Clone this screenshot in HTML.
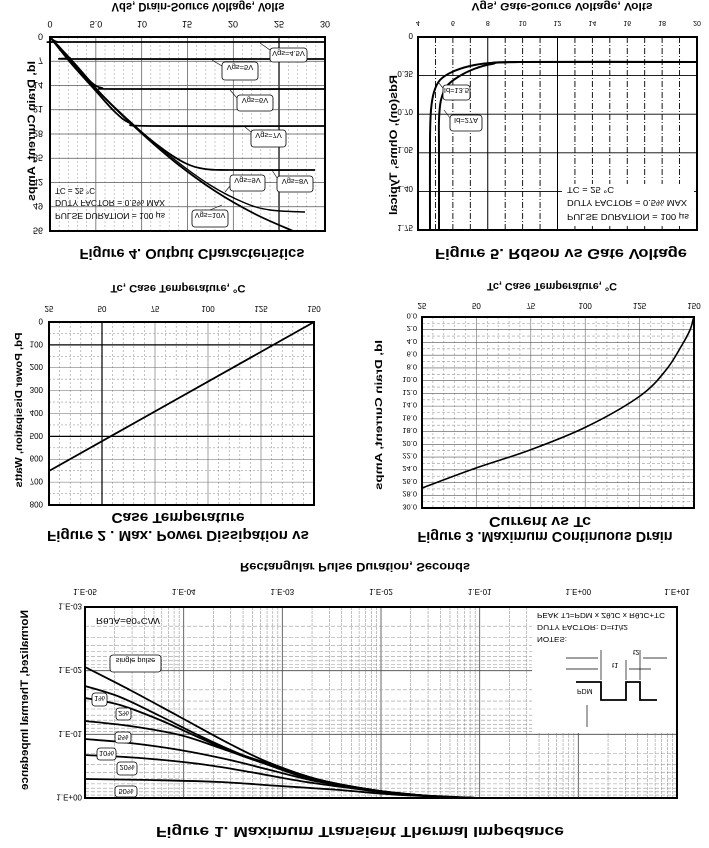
<!DOCTYPE html>
<html><head><meta charset="utf-8"><style>
html,body{margin:0;padding:0;background:#fff}
svg{display:block}
text{font-family:"Liberation Sans",Arial,sans-serif;fill:#000}
.b{font-weight:bold}
</style></head><body>
<svg id="s" width="709" height="848" viewBox="0 0 709 848" xmlns="http://www.w3.org/2000/svg">
<g id="lines"></g>
<g id="fg"></g>
<g transform="matrix(1,0,0,-1,0,848)">
<!-- Fig 4 -->
<text class="b" x="198" y="845" font-size="12" text-anchor="middle" textLength="173" lengthAdjust="spacingAndGlyphs">Vds, Drain-Source Voltage, Volts</text>
<g font-size="9" text-anchor="middle">
<text x="50" y="827">0</text><text x="96" y="827">5.0</text><text x="142" y="827">10</text><text x="187" y="827">15</text><text x="233" y="827">20</text><text x="279" y="827">25</text><text x="325" y="827">30</text>
</g>
<g font-size="9" text-anchor="end">
<text x="43" y="814.5">0</text><text x="43" y="790.3">7</text><text x="43" y="766">14</text><text x="43" y="741.8">21</text><text x="43" y="717.5">28</text><text x="43" y="693.3">35</text><text x="43" y="669">42</text><text x="43" y="644.8">49</text><text x="43" y="620.5">56</text>
</g>
<text class="b" x="192" y="599" font-size="15" text-anchor="middle" textLength="225" lengthAdjust="spacingAndGlyphs">Figure 4. Output Characteristics</text>
<text class="b" transform="translate(35,717) rotate(-90)" font-size="11" text-anchor="middle" textLength="140" lengthAdjust="spacingAndGlyphs">Id, Drain Current, Amps</text>
<g font-size="8.5">
<text x="55" y="660" textLength="40" lengthAdjust="spacingAndGlyphs">TC = 25 °C</text>
<text x="55" y="648" textLength="110" lengthAdjust="spacingAndGlyphs">DUTY FACTOR = 0.5% MAX</text>
<text x="55" y="635" textLength="110" lengthAdjust="spacingAndGlyphs">PULSE DURATION = 100 µs</text>
</g>
<g font-size="7.5" text-anchor="middle">
<text x="288.5" y="797">Vgs=4.5V</text>
<text x="240" y="783">Vgs=5V</text>
<text x="255" y="750">Vgs=6V</text>
<text x="268.5" y="715">Vgs=7V</text>
<text x="295" y="669">Vgs=8V</text>
<text x="247.5" y="670">Vgs=9V</text>
<text x="210" y="635">Vgs=10V</text>
</g>
<!-- Fig 5 -->
<text class="b" x="562" y="845" font-size="11" text-anchor="middle" textLength="181" lengthAdjust="spacingAndGlyphs">Vgs, Gate-Source Voltage, Volts</text>
<g font-size="7" text-anchor="middle">
<text x="418" y="827">4</text><text x="452.9" y="827">6</text><text x="487.8" y="827">8</text><text x="522.6" y="827">10</text><text x="557.5" y="827">12</text><text x="592.4" y="827">14</text><text x="627.3" y="827">16</text><text x="662.1" y="827">18</text><text x="697" y="827">20</text>
</g>
<g font-size="8" text-anchor="end">
<text x="413" y="815">0</text><text x="413" y="777">0.35</text><text x="413" y="739">0.70</text><text x="413" y="701">1.05</text><text x="413" y="662">1.40</text><text x="413" y="623">1.75</text>
</g>
<text class="b" x="561" y="599" font-size="15" text-anchor="middle" textLength="252" lengthAdjust="spacingAndGlyphs">Figure 5.  Rdson vs Gate Voltage</text>
<text class="b" transform="translate(397,703) rotate(-90)" font-size="11" text-anchor="middle" textLength="140" lengthAdjust="spacingAndGlyphs">Rds(on), Ohms, Typical</text>
<g font-size="8.5">
<text x="567" y="661" textLength="47" lengthAdjust="spacingAndGlyphs">TC = 25 °C</text>
<text x="567" y="648" textLength="120" lengthAdjust="spacingAndGlyphs">DUTY FACTOR = 0.5% MAX</text>
<text x="567" y="634" textLength="122" lengthAdjust="spacingAndGlyphs">PULSE DURATION = 100 µs</text>
</g>
<g font-size="7.5" text-anchor="middle">
<text x="456.5" y="760">Id=13.5</text>
<text x="466" y="730">Id=27A</text>
</g>
<!-- Fig 2 -->
<text class="b" x="178" y="563" font-size="11" text-anchor="middle" textLength="135" lengthAdjust="spacingAndGlyphs">Tc, Case Temperature, °C</text>
<g font-size="8" text-anchor="middle">
<text x="49" y="542">25</text><text x="102" y="542">50</text><text x="155" y="542">75</text><text x="208" y="542">100</text><text x="261" y="542">125</text><text x="314" y="542">150</text>
</g>
<g font-size="8" text-anchor="end">
<text x="43" y="529.5">0</text><text x="43" y="506.6">100</text><text x="43" y="483.8">200</text><text x="43" y="460.9">300</text><text x="43" y="438">400</text><text x="43" y="415.1">500</text><text x="43" y="392.3">600</text><text x="43" y="369.4">700</text><text x="43" y="346.5">800</text>
</g>
<text class="b" x="178" y="335" font-size="15" text-anchor="middle" textLength="133" lengthAdjust="spacingAndGlyphs">Case Temperature</text>
<text class="b" x="178" y="317" font-size="15" text-anchor="middle" textLength="262" lengthAdjust="spacingAndGlyphs">Figure 2 . Max. Power Dissipation vs</text>
<text class="b" transform="translate(22,438) rotate(-90)" font-size="10.5" text-anchor="middle" textLength="155" lengthAdjust="spacingAndGlyphs">Pd, Power Dissipation, Watts</text>
<!-- Fig 3 -->
<text class="b" x="552" y="565" font-size="11" text-anchor="middle" textLength="130" lengthAdjust="spacingAndGlyphs">Tc, Case Temperature, °C</text>
<g font-size="8" text-anchor="middle">
<text x="422" y="545">25</text><text x="476.4" y="545">50</text><text x="530.8" y="545">75</text><text x="585.2" y="545">100</text><text x="639.6" y="545">125</text><text x="694" y="545">150</text>
</g>
<g font-size="7.5" text-anchor="end">
<text x="417" y="534.5">0.0</text><text x="417" y="521.8">2.0</text><text x="417" y="509">4.0</text><text x="417" y="496.3">6.0</text><text x="417" y="483.6">8.0</text><text x="417" y="470.9">10.0</text><text x="417" y="458.1">12.0</text><text x="417" y="445.4">14.0</text><text x="417" y="432.7">16.0</text><text x="417" y="420">18.0</text><text x="417" y="407.2">20.0</text><text x="417" y="394.5">22.0</text><text x="417" y="381.8">24.0</text><text x="417" y="369.1">26.0</text><text x="417" y="356.3">28.0</text><text x="417" y="343.6">30.0</text>
</g>
<text class="b" x="540" y="331" font-size="15" text-anchor="middle" textLength="102" lengthAdjust="spacingAndGlyphs">Current  vs Tc</text>
<text class="b" x="545" y="316" font-size="15" text-anchor="middle" textLength="255" lengthAdjust="spacingAndGlyphs">Figure 3 .Maximum Continuous Drain</text>
<text class="b" transform="translate(382,433) rotate(-90)" font-size="10.5" text-anchor="middle" textLength="150" lengthAdjust="spacingAndGlyphs">Id, Drain Current, Amps</text>
<!-- Fig 1 -->
<text class="b" x="355" y="285" font-size="11.5" text-anchor="middle" textLength="230" lengthAdjust="spacingAndGlyphs">Rectangular Pulse Duration, Seconds</text>
<g font-size="8" text-anchor="middle">
<text x="85" y="259">1.E-05</text><text x="183.7" y="259">1.E-04</text><text x="282.3" y="259">1.E-03</text><text x="381" y="259">1.E-02</text><text x="479.7" y="259">1.E-01</text><text x="578.3" y="259">1.E+00</text><text x="677" y="259">1.E+01</text>
</g>
<g font-size="8" text-anchor="end">
<text x="82" y="244.5">1.E-03</text><text x="82" y="180.8">1.E-02</text><text x="82" y="117.2">1.E-01</text><text x="82" y="53.5">1.E+00</text>
</g>
<text class="b" x="360" y="21" font-size="15" text-anchor="middle" textLength="408" lengthAdjust="spacingAndGlyphs">Figure 1. Maximum Transient Thermal Impedance</text>
<text class="b" transform="translate(28,148) rotate(-90)" font-size="11" text-anchor="middle" textLength="180" lengthAdjust="spacingAndGlyphs">Normalized, Thermal Impedance</text>
<text x="96" y="230" font-size="8" textLength="64" lengthAdjust="spacingAndGlyphs">RθJA=60°C/W</text>
<g font-size="7.5">
<text x="537" y="235" textLength="128" lengthAdjust="spacingAndGlyphs">PEAK TJ=PDM x ZθJC x RθJC+TC</text>
<text x="537" y="223" textLength="91" lengthAdjust="spacingAndGlyphs">DUTY FACTOR: D=t1/t2</text>
<text x="537" y="211" textLength="30" lengthAdjust="spacingAndGlyphs">NOTES:</text>
<text x="577" y="159" font-size="7">PDM</text>
<text x="612" y="185">t1</text>
<text x="633" y="198">t2</text>
</g>
<g font-size="7.5" text-anchor="middle">
<text x="135.5" y="190">single pulse</text>
<text x="99.5" y="152">1%</text>
<text x="123.5" y="137">2%</text>
<text x="123" y="113">5%</text>
<text x="106.5" y="97">10%</text>
<text x="127" y="83">20%</text>
<text x="126" y="59">50%</text>
</g>
</g>
</svg>
<script>
var L=document.getElementById('lines'),F=document.getElementById('fg'),NS='http://www.w3.org/2000/svg';
function ln(g,x1,y1,x2,y2,c,w,d){var e=document.createElementNS(NS,'line');e.setAttribute('x1',x1);e.setAttribute('y1',y1);e.setAttribute('x2',x2);e.setAttribute('y2',y2);e.setAttribute('stroke',c);e.setAttribute('stroke-width',w);if(d)e.setAttribute('stroke-dasharray',d);g.appendChild(e);}
function rect(g,x,y,w,h,sw,rx,fill){var e=document.createElementNS(NS,'rect');e.setAttribute('x',x);e.setAttribute('y',y);e.setAttribute('width',w);e.setAttribute('height',h);e.setAttribute('fill',fill||'none');e.setAttribute('stroke','#000');e.setAttribute('stroke-width',sw);if(rx)e.setAttribute('rx',rx);g.appendChild(e);}
function pl(g,pts,w,smooth){var e=document.createElementNS(NS,'path');var d='M'+pts[0][0]+','+pts[0][1];
 if(smooth){for(var i=0;i<pts.length-1;i++){var p0=pts[i-1]||pts[i],p1=pts[i],p2=pts[i+1],p3=pts[i+2]||p2;
 d+=' C'+(p1[0]+(p2[0]-p0[0])/6)+','+(p1[1]+(p2[1]-p0[1])/6)+' '+(p2[0]-(p3[0]-p1[0])/6)+','+(p2[1]-(p3[1]-p1[1])/6)+' '+p2[0]+','+p2[1];}}
 else for(var i=1;i<pts.length;i++)d+=' L'+pts[i][0]+','+pts[i][1];
 e.setAttribute('d',d);e.setAttribute('fill','none');e.setAttribute('stroke','#000');e.setAttribute('stroke-width',w);g.appendChild(e);}
// Fig4
var x0=50,x1=325,y0=37,y1=231,i;
for(i=1;i<30;i++){var x=x0+i*(x1-x0)/30;ln(L,x,y0,x,y1,i%5?'#aaa':'#666',i%5?0.6:0.8,i%5?'2,2':null);}
ln(L,279,y0,279,y1,'#000',1.2);
for(i=1;i<8;i++){var y=y0+i*(y1-y0)/8;ln(L,x0,y,x1,y,'#555',0.8);}
rect(F,x0,y0,x1-x0,y1-y0,2);
pl(F,[[50,37],[53,40],[58,42],[70,42],[325,42]],1.8,true);
pl(F,[[50,37],[58,47],[64,54],[70,58],[80,59],[325,59]],1.8,true);
pl(F,[[50,37],[65,55],[80,70],[92,83],[102,88],[120,89],[325,89]],1.8,true);
pl(F,[[50,37],[70,62],[95,90],[115,112],[130,123],[150,126],[325,126]],1.8,true);
pl(F,[[50,37],[72,62],[98,91],[130,122],[160,147],[185,163],[205,169],[230,170],[315,170]],1.8,true);
pl(F,[[50,37],[74,63],[100,93],[135,126],[170,156],[210,185],[245,203],[270,210],[305,212]],1.4,true);
pl(F,[[50,37],[75,64],[102,95],[138,130],[175,162],[215,191],[255,214],[293,231]],1.8,true);
[[270,48,37,14],[222,62,36,18],[237,95,36,16],[251,130,35,17],[277,176,36,16],[230,175,35,16],[192,210,36,17]].forEach(function(b){rect(F,b[0],b[1],b[2],b[3],0.8,3,'#fff');});
ln(F,270,50,260,43,'#000',0.6);ln(F,222,66,212,60,'#000',0.6);ln(F,237,98,230,90,'#000',0.6);ln(F,251,132,245,127,'#000',0.6);ln(F,277,178,272,170,'#000',0.6);ln(F,230,186,225,192,'#000',0.6);ln(F,210,210,222,205,'#000',0.6);
// Fig5
x0=418;x1=697;y0=37;y1=230;var dx=(x1-x0)/16;
for(i=1;i<16;i++){var x=x0+i*dx;if(i==4||i==8)ln(L,x,y0,x,y1,'#000',1);else ln(L,x,y0,x,y1,'#000',0.9,'6,2,1,2');}
for(i=1;i<5;i++){var y=y0+i*(y1-y0)/5;ln(L,x0,y,x1,y,'#000',0.9);}
rect(F,x0,y0,x1-x0,y1-y0,2);
var wr=document.createElementNS(NS,'rect');wr.setAttribute('x',562);wr.setAttribute('y',184);wr.setAttribute('width',132);wr.setAttribute('height',42);wr.setAttribute('fill','#fff');F.appendChild(wr);
pl(F,[[697,62],[520,62],[490,63],[470,66],[452,72],[440,80],[434,92],[431,110],[430,140],[430,230]],2,true);
pl(F,[[697,62],[520,62],[492,64],[474,69],[458,77],[447,86],[441,100],[439,120],[439,150],[439,230]],2,true);
rect(F,443,85,27,15,0.8,3,'#fff');rect(F,450,115,32,16,0.8,3,'#fff');
ln(F,443,88,438,82,'#000',0.6);ln(F,450,118,444,110,'#000',0.6);
// Fig2
x0=49;x1=314;y0=322;y1=505;
for(i=1;i<25;i++){var x=x0+i*(x1-x0)/25;ln(L,x,y0,x,y1,i%5?'#999':'#666',0.6,i%5?'2,2':null);}
for(i=1;i<16;i++){var y=y0+i*(y1-y0)/16;ln(L,x0,y,x1,y,i%2?'#999':'#666',0.6,i%2?'2,2':null);}
ln(L,102,y0,102,y1,'#000',1.2);ln(L,x0,344.9,x1,344.9,'#000',1.2);ln(L,x0,436.4,x1,436.4,'#000',1.2);
rect(F,x0,y0,x1-x0,y1-y0,2);
pl(F,[[49,471],[314,322]],1.8);
// Fig3
x0=422;x1=694;y0=317;y1=508;
for(i=1;i<25;i++){var x=x0+i*(x1-x0)/25;ln(L,x,y0,x,y1,i%5?'#999':'#666',0.6,i%5?'2,2':null);}
for(i=1;i<30;i++){var y=y0+i*(y1-y0)/30;ln(L,x0,y,x1,y,i%2?'#999':'#555',0.6,i%2?'3,2':null);}
rect(F,x0,y0,x1-x0,y1-y0,2);
pl(F,[[422,488],[476,468],[530,450],[586,427],[640,396],[666,370],[682,345],[690,330],[693,320],[694,317]],1.6,true);
// Fig1
x0=85;x1=677;y0=607;y1=798;var dd=(x1-x0)/6,dy=(y1-y0)/3;
for(var d=0;d<6;d++)for(var k=1;k<10;k++){var x=x0+dd*(d+Math.log10(k));if(d==0&&k==1)continue;ln(L,x,y0,x,y1,k==1?'#555':'#999',k==1?0.9:0.6,k==1?null:'3,1');}
for(var d=0;d<3;d++)for(var k=1;k<10;k++){var y=y0+dy*(d+Math.log10(k));if(d==0&&k==1)continue;ln(L,x0,y,x1,y,k==1?'#444':'#999',k==1?0.9:0.6,k==1?null:'4,2');}
var wb=document.createElementNS(NS,'rect');wb.setAttribute('x',532);wb.setAttribute('y',608);wb.setAttribute('width',144);wb.setAttribute('height',125);wb.setAttribute('fill','#fff');F.appendChild(wb);
rect(F,x0,y0,x1-x0,y1-y0,2);
var tail=[[380,791],[430,796],[478,798]];
pl(F,[[85,667],[130,690],[180,717],[230,744],[270,763],[320,780]].concat(tail),1.8,true);
pl(F,[[85,686],[120,697],[160,716],[200,736],[240,754],[270,764],[320,780]].concat(tail),1.8,true);
pl(F,[[85,698],[120,705],[160,720],[200,738],[240,755],[270,765],[320,780]].concat(tail),1.8,true);
pl(F,[[85,721],[130,726],[180,735],[220,748],[260,762],[300,776],[340,786]].concat(tail),1.8,true);
pl(F,[[85,739],[130,743],[180,750],[230,760],[270,770],[320,782]].concat(tail),1.8,true);
pl(F,[[85,755],[140,758],[200,764],[250,772],[300,781],[350,788],[400,794],[478,798]],1.8,true);
pl(F,[[85,779],[150,780],[220,782],[280,786],[340,790],[400,795],[478,798]],1.8,true);
[[110,655,51,17],[92,693,15,13],[116,708,15,12],[115,732,16,11],[97,748,19,12],[117,762,20,13],[115,786,22,11]].forEach(function(b){rect(F,b[0],b[1],b[2],b[3],0.8,3,'#fff');});
pl(F,[[576,682],[601,682],[601,700],[626,700],[626,682],[640,682],[640,700],[657,700]],1.8);
ln(F,587,727,587,705,'#000',0.7);ln(F,601,650,601,680,'#000',0.7);ln(F,626,660,626,680,'#000',0.7);ln(F,640,650,640,680,'#000',0.7);
ln(F,566,669,598,669,'#000',0.7);ln(F,651,669,629,669,'#000',0.7);ln(F,566,658,598,658,'#000',0.7);ln(F,667,658,643,658,'#000',0.7);
</script>
</body></html>
